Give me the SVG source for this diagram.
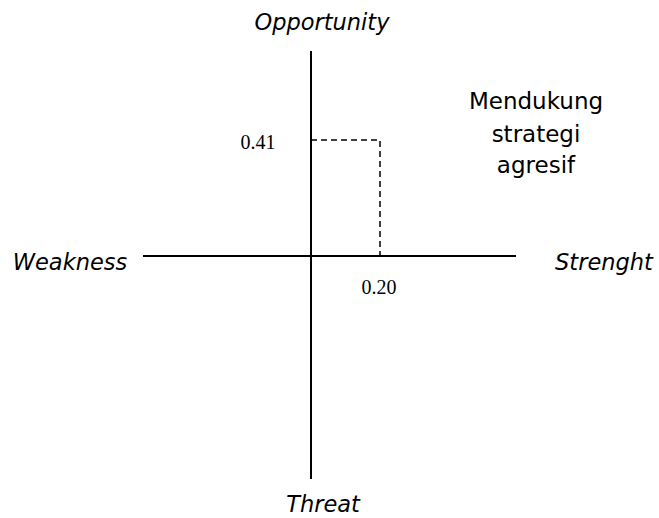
<svg xmlns="http://www.w3.org/2000/svg" width="659" height="518" viewBox="0 0 659 518">
<style>
.lbl{font-family:"DejaVu Sans",Verdana,sans-serif;font-size:22.5px;fill:#000}
.note{font-size:23px}
.it{font-style:italic}
.num{font-family:"Liberation Serif","Times New Roman",serif;font-size:20px;fill:#000}
.axis{stroke:#000;stroke-width:2;fill:none}
.dash{stroke:#000;stroke-width:1.5;fill:none;stroke-dasharray:6 4}
</style>
<rect width="659" height="518" fill="#fff"/>
<g id="connectors">
<line class="axis" x1="311" y1="51" x2="311" y2="479"/>
<line class="axis" x1="143" y1="256" x2="516" y2="256"/>
<polyline class="dash" points="311,140 380,140 380,256"/>
</g>
<g id="opportunity"><text class="lbl it" x="322" y="30" text-anchor="middle">Opportunity</text></g>
<g id="weakness"><text class="lbl it" x="70" y="270" text-anchor="middle">Weakness</text></g>
<g id="strenght"><text class="lbl it" x="604" y="270" text-anchor="middle">Strenght</text></g>
<g id="threat"><text class="lbl it" x="323" y="512" text-anchor="middle">Threat</text></g>
<g id="val-041"><text class="num" x="258" y="149" text-anchor="middle">0.41</text></g>
<g id="val-020"><text class="num" x="379" y="294" text-anchor="middle">0.20</text></g>
<g id="note">
<text class="lbl note" x="536" y="109" text-anchor="middle">Mendukung</text>
<text class="lbl note" x="536" y="142" text-anchor="middle">strategi</text>
<text class="lbl note" x="536" y="173" text-anchor="middle">agresif</text>
</g>
</svg>
